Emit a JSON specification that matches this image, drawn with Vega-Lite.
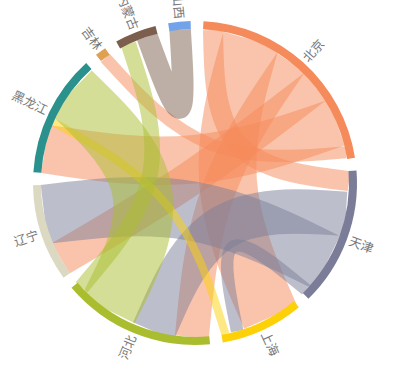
{
  "$schema": "https://vega.github.io/schema/vega-lite/v6.json",
  "width": 390,
  "height": 366,
  "autosize": "none",
  "padding": {"left": 0, "top": 0, "right": 20, "bottom": 6},
  "background": "white",
  "config": {"view": {"stroke": null}},
  "data": {
    "values": [
      {"k": 0, "n": 0, "node": "北京", "r": "京津", "v": 7.4},
      {"k": 1, "n": 0, "node": "北京", "r": "京沪", "v": 22},
      {"k": 2, "n": 0, "node": "北京", "r": "京冀", "v": 12.3},
      {"k": 3, "n": 0, "node": "北京", "r": "京辽", "v": 13.1},
      {"k": 4, "n": 0, "node": "北京", "r": "京黑", "v": 18.2},
      {"k": 5, "n": 0, "node": "北京", "r": "京吉", "v": 5},
      {"k": 6, "n": 1, "node": "天津", "r": "京津", "v": 7.5},
      {"k": 7, "n": 1, "node": "天津", "r": "津冀", "v": 17},
      {"k": 8, "n": 1, "node": "天津", "r": "津辽", "v": 22.1},
      {"k": 9, "n": 1, "node": "天津", "r": "津沪", "v": 3.4},
      {"k": 10, "n": 2, "node": "上海", "r": "京沪", "v": 21},
      {"k": 11, "n": 2, "node": "上海", "r": "津沪", "v": 6},
      {"k": 12, "n": 2, "node": "上海", "r": "沪黑", "v": 3},
      {"k": 13, "n": 3, "node": "河北", "r": "京冀", "v": 13},
      {"k": 14, "n": 3, "node": "河北", "r": "津冀", "v": 16},
      {"k": 15, "n": 3, "node": "河北", "r": "冀黑", "v": 21.5},
      {"k": 16, "n": 3, "node": "河北", "r": "冀蒙", "v": 4.5},
      {"k": 17, "n": 4, "node": "辽宁", "r": "京辽", "v": 13},
      {"k": 18, "n": 4, "node": "辽宁", "r": "津辽", "v": 22},
      {"k": 19, "n": 5, "node": "黑龙江", "r": "京黑", "v": 18},
      {"k": 20, "n": 5, "node": "黑龙江", "r": "沪黑", "v": 3},
      {"k": 21, "n": 5, "node": "黑龙江", "r": "冀黑", "v": 23},
      {"k": 22, "n": 6, "node": "吉林", "r": "京吉", "v": 4},
      {"k": 23, "n": 7, "node": "内蒙古", "r": "冀蒙", "v": 7},
      {"k": 24, "n": 7, "node": "内蒙古", "r": "蒙晋", "v": 8},
      {"k": 25, "n": 8, "node": "山西", "r": "蒙晋", "v": 8}
    ]
  },
  "layer": [
    {
      "transform": [
        {"window": [{"op": "sum", "field": "v", "as": "cum"}], "sort": [{"field": "k"}], "frame": [null, 0]},
        {"calculate": "(3 + datum.n * 4.556 + datum.cum - datum.v / 2) * PI / 180", "as": "t"},
        {"window": [{"op": "rank", "as": "e"}, {"op": "first_value", "field": "node", "as": "owner"}], "groupby": ["r"], "sort": [{"field": "k"}], "frame": [null, null]},
        {"joinaggregate": [{"op": "mean", "field": "v", "as": "w"}], "groupby": ["r"]},
        {"calculate": "datum.e == 1 ? [0, 1] : [2]", "as": "p"},
        {"flatten": ["p"]},
        {"calculate": "datum.p == 1 ? 0 : sin(datum.t)", "as": "x"},
        {"calculate": "datum.p == 1 ? 0 : cos(datum.t)", "as": "y"}
      ],
      "mark": {"type": "line", "interpolate": "bundle", "tension": 0.75, "opacity": 0.5, "strokeCap": "butt"},
      "encoding": {
        "x": {"field": "x", "type": "quantitative", "scale": {"domain": [-1.2662, 1.2662], "nice": false, "zero": false}, "axis": null},
        "y": {"field": "y", "type": "quantitative", "scale": {"domain": [-1.1883, 1.1883], "nice": false, "zero": false}, "axis": null},
        "detail": {"field": "r"},
        "order": {"field": "p"},
        "color": {"field": "owner", "type": "nominal", "legend": null,
          "scale": {"domain": ["北京", "天津", "上海", "河北", "辽宁", "黑龙江", "吉林", "内蒙古", "山西"],
                    "range": ["#f58a5a", "#7b7d98", "#fcd108", "#a9bd2f", "#dcd9c3", "#2b918d", "#dea150", "#7b5f4c", "#72a2ea"]}},
        "size": {"field": "w", "type": "quantitative", "legend": null, "scale": {"domain": [0, 100], "range": [0, 268.78]}}
      }
    },
    {
      "transform": [
        {"window": [{"op": "sum", "field": "v", "as": "cum"}], "sort": [{"field": "k"}], "frame": [null, 0]},
        {"calculate": "3 + datum.n * 4.556 + datum.cum - datum.v", "as": "a0"},
        {"calculate": "datum.a0 + datum.v", "as": "a1"},
        {"aggregate": [{"op": "min", "field": "a0", "as": "s"}, {"op": "max", "field": "a1", "as": "e"}], "groupby": ["node"]}
      ],
      "mark": {"type": "arc", "radius": 162, "radius2": 154},
      "encoding": {
        "theta": {"field": "s", "type": "quantitative", "stack": null, "scale": {"domain": [0, 360], "range": [0, 6.283185]}},
        "theta2": {"field": "e"},
        "color": {"field": "node", "type": "nominal", "legend": null,
          "scale": {"domain": ["北京", "天津", "上海", "河北", "辽宁", "黑龙江", "吉林", "内蒙古", "山西"],
                    "range": ["#f58a5a", "#7b7d98", "#fcd108", "#a9bd2f", "#dcd9c3", "#2b918d", "#dea150", "#7b5f4c", "#72a2ea"]}}
      }
    },
    {
      "transform": [
        {"window": [{"op": "sum", "field": "v", "as": "cum"}], "sort": [{"field": "k"}], "frame": [null, 0]},
        {"calculate": "3 + datum.n * 4.556 + datum.cum - datum.v", "as": "a0"},
        {"calculate": "datum.a0 + datum.v", "as": "a1"},
        {"aggregate": [{"op": "min", "field": "a0", "as": "s"}, {"op": "max", "field": "a1", "as": "e"}], "groupby": ["node"]},
        {"calculate": "(datum.s + datum.e) / 2", "as": "m"},
        {"filter": "datum.m < 180"},
        {"calculate": "1.0714 * sin(datum.m * PI / 180)", "as": "lx"},
        {"calculate": "1.0714 * cos(datum.m * PI / 180)", "as": "ly"},
        {"calculate": "datum.m - 90", "as": "rot"}
      ],
      "mark": {"type": "text", "align": "left", "baseline": "middle", "font": "Noto Sans CJK SC", "fontSize": 12.5, "color": "#777777"},
      "encoding": {
        "x": {"field": "lx", "type": "quantitative", "scale": {"domain": [-1.2662, 1.2662], "nice": false, "zero": false}, "axis": null},
        "y": {"field": "ly", "type": "quantitative", "scale": {"domain": [-1.1883, 1.1883], "nice": false, "zero": false}, "axis": null},
        "text": {"field": "node"},
        "angle": {"field": "rot", "type": "quantitative", "scale": null}
      }
    },
    {
      "transform": [
        {"window": [{"op": "sum", "field": "v", "as": "cum"}], "sort": [{"field": "k"}], "frame": [null, 0]},
        {"calculate": "3 + datum.n * 4.556 + datum.cum - datum.v", "as": "a0"},
        {"calculate": "datum.a0 + datum.v", "as": "a1"},
        {"aggregate": [{"op": "min", "field": "a0", "as": "s"}, {"op": "max", "field": "a1", "as": "e"}], "groupby": ["node"]},
        {"calculate": "(datum.s + datum.e) / 2", "as": "m"},
        {"filter": "datum.m >= 180"},
        {"calculate": "1.0714 * sin(datum.m * PI / 180)", "as": "lx"},
        {"calculate": "1.0714 * cos(datum.m * PI / 180)", "as": "ly"},
        {"calculate": "datum.m - 270", "as": "rot"}
      ],
      "mark": {"type": "text", "align": "right", "baseline": "middle", "font": "Noto Sans CJK SC", "fontSize": 12.5, "color": "#777777"},
      "encoding": {
        "x": {"field": "lx", "type": "quantitative", "scale": {"domain": [-1.2662, 1.2662], "nice": false, "zero": false}, "axis": null},
        "y": {"field": "ly", "type": "quantitative", "scale": {"domain": [-1.1883, 1.1883], "nice": false, "zero": false}, "axis": null},
        "text": {"field": "node"},
        "angle": {"field": "rot", "type": "quantitative", "scale": null}
      }
    }
  ]
}
